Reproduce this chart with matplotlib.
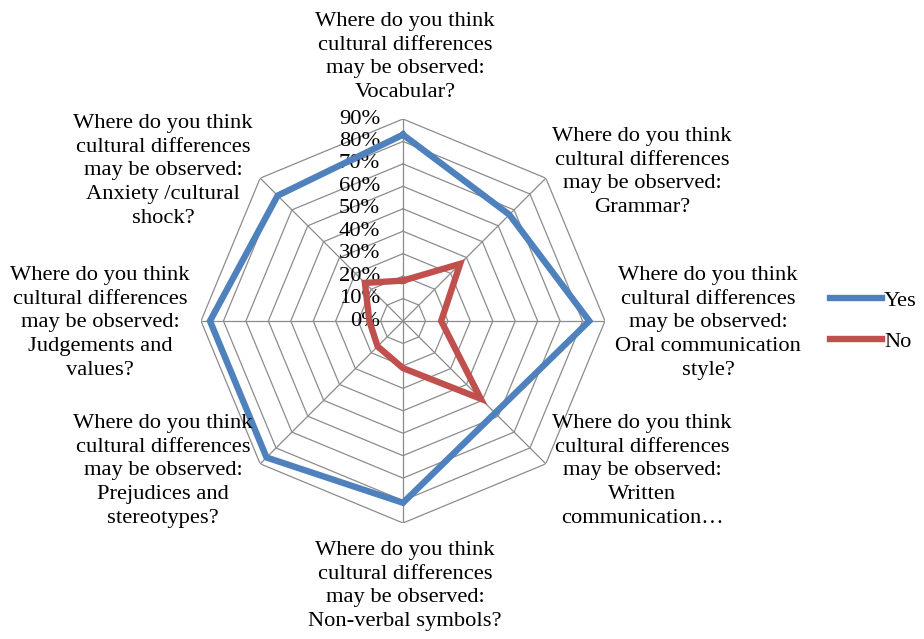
import numpy as np
import matplotlib.pyplot as plt
from matplotlib.transforms import offset_copy

plt.rcParams['font.family'] = ['Liberation Serif', 'DejaVu Serif']

# Survey answers (share of respondents) for each area
prefix = "Where do you think\ncultural differences\nmay be observed:\n"
areas = ["Vocabular?", "Grammar?", "Oral communication\nstyle?",
         "Written\ncommunication\u2026", "Non-verbal symbols?",
         "Prejudices and\nstereotypes?", "Judgements and\nvalues?",
         "Anxiety /cultural\nshock?"]
yes = [0.83, 0.67, 0.83, 0.58, 0.81, 0.86, 0.86, 0.79]
no = [0.18, 0.36, 0.17, 0.49, 0.21, 0.16, 0.15, 0.24]
levels = [0.0, 0.1, 0.2, 0.3, 0.4, 0.5, 0.6, 0.7, 0.8, 0.9]
level_labels = ["0%", "10%", "20%", "30%", "40%", "50%", "60%", "70%", "80%", "90%"]

W, H = 924, 639
fs = 16.2
fig = plt.figure(figsize=(W / 100, H / 100), dpi=100)
cx, cy, R = 403, 321, 202
ax = fig.add_axes([(cx - R) / W, (H - cy - R) / H, 2 * R / W, 2 * R / H],
                  projection='polar')
ax.set_theta_zero_location('N')
ax.set_theta_direction(-1)
ax.set_ylim(0, 0.9)
ax.grid(False)
ax.set_xticks([])
ax.set_yticks([])
ax.spines['polar'].set_visible(False)
ax.patch.set_visible(False)

n = len(areas)
theta = np.linspace(0, 2 * np.pi, n, endpoint=False)
closed = np.append(theta, theta[0])

# octagonal grid rings and spokes
grid_kw = dict(color='#8c8c8c', lw=0.9, zorder=1)
for lv in levels[1:]:
    ax.plot(closed, [lv] * (n + 1), **grid_kw)
for t in theta:
    ax.plot([t, t], [0, 0.9], **grid_kw)

ax.plot(closed, np.append(yes, yes[0]), color='#4F81BD', lw=4.6,
        solid_joinstyle='miter', label='Yes', zorder=3)
ax.plot(closed, np.append(no, no[0]), color='#C0504D', lw=4.6,
        solid_joinstyle='miter', label='No', zorder=3)

# percentage labels along the vertical axis
tick_tr = offset_copy(ax.transData, fig=fig, x=-23, y=0, units='dots')
for lv, lab in zip(levels, level_labels):
    ax.text(0, lv, lab, transform=tick_tr, ha='right', va='center',
            fontsize=fs, color='black', zorder=2)

# category labels around the chart
label_pos = [(405, 57), (642, 172), (708, 323), (642, 471),
             (405, 586), (163, 471), (100, 323), (163, 171)]
for (px, py), area in zip(label_pos, areas):
    fig.text(px / W, 1 - py / H, prefix + area, ha='center', va='center',
             fontsize=fs, linespacing=1.34, multialignment='center')

fig.legend(loc='center left', bbox_to_anchor=(830 / W, 1 - 321 / H),
           frameon=False, fontsize=fs, handlelength=2.3, borderpad=0,
           borderaxespad=0, handletextpad=0.1, labelspacing=0.9)

fig.savefig('out.png', dpi=100)
